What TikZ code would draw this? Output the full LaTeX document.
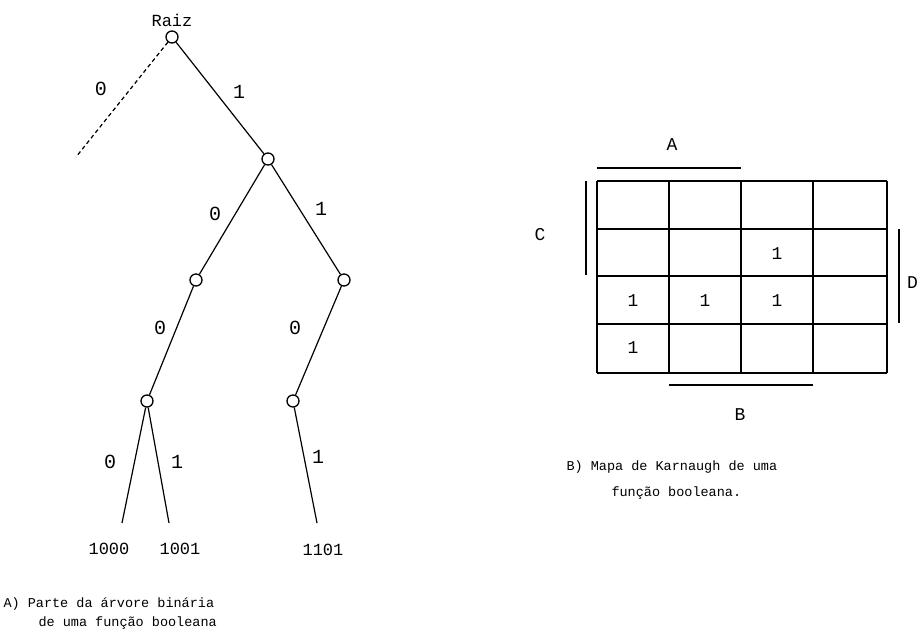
\documentclass[tikz,border=0pt]{standalone}
\usepackage{fontspec}
\setmainfont{Liberation Mono}
\usepackage{tikz}

\tikzset{
  vert/.style={circle,draw,line width=1.3pt,minimum size=12pt,inner sep=0pt},
  ramo/.style={line width=1.2pt},
  rot/.style={font=\fontsize{20}{22}\selectfont},
  folha/.style={font=\fontsize{17}{20}\selectfont},
  letra/.style={font=\fontsize{18}{20}\selectfont},
  legenda/.style={font=\fontsize{13.5}{16}\selectfont,anchor=west},
  celula/.style={line width=1.5pt},
  barra/.style={line width=1.3pt}
}

\begin{document}
\begin{tikzpicture}[x=1pt,y=-1pt]
\useasboundingbox (0,0) rectangle (919,639);
% arvore
\node[vert] (r) at (172,37) {};
\node[folha] (raiz) at (172,20) {Raiz};
\coordinate (d0) at (76,157);
\node[vert] (n1) at (268,159) {};
\node[vert] (n10) at (196,280) {};
\node[vert] (n11) at (344,280) {};
\node[vert] (n100) at (147,401) {};
\node[vert] (n110) at (293,401) {};
\coordinate (l1000) at (122,523);
\coordinate (l1001) at (169,523);
\coordinate (l1101) at (317,523);
\draw[ramo,dash pattern=on 4pt off 3pt] (r) -- (d0);
\draw[ramo] (r) -- (n1);
\draw[ramo] (n1) -- (n10);
\draw[ramo] (n1) -- (n11);
\draw[ramo] (n10) -- (n100);
\draw[ramo] (n11) -- (n110);
\draw[ramo] (n100) -- (l1000);
\draw[ramo] (n100) -- (l1001);
\draw[ramo] (n110) -- (l1101);
\node[rot] at (101,89) {0};
\node[rot] at (239,92) {1};
\node[rot] at (215,214) {0};
\node[rot] at (321,209) {1};
\node[rot] at (160,328) {0};
\node[rot] at (295,328) {0};
\node[rot] at (110,462) {0};
\node[rot] at (177,462) {1};
\node[rot] at (318,457) {1};
\node[folha] (t1000) at (109,549) {1000};
\node[folha] (t1001) at (180,549) {1001};
\node[folha] (t1101) at (323,550) {1101};
\node[legenda] at (0,604) {A) Parte da árvore binária};
\node[legenda] at (35,623) {de uma função booleana};
% mapa de Karnaugh
\foreach \x in {597,669,741,813,887}
  \draw[celula] (\x,181) -- (\x,373);
\foreach \y in {181,229,276,324,373}
  \draw[celula] (597,\y) -- (887,\y);
\node[letra] at (777,254) {1};
\node[letra] at (633,301) {1};
\node[letra] at (705,301) {1};
\node[letra] at (777,301) {1};
\node[letra] at (633,348) {1};
\draw[barra] (597,168) -- (741,168);
\node[letra] (va) at (672,145) {A};
\draw[barra] (586,181) -- (586,275);
\node[letra] (vc) at (540,235) {C};
\draw[barra] (899,229) -- (899,323);
\node[letra,anchor=east,inner sep=1pt] (vd) at (919,283) {D};
\draw[barra] (669,385) -- (813,385);
\node[letra] (vb) at (740,415) {B};
\node[legenda] at (563,467) {B) Mapa de Karnaugh de uma};
\node[legenda] at (608,493) {função booleana.};
\end{tikzpicture}
\end{document}
